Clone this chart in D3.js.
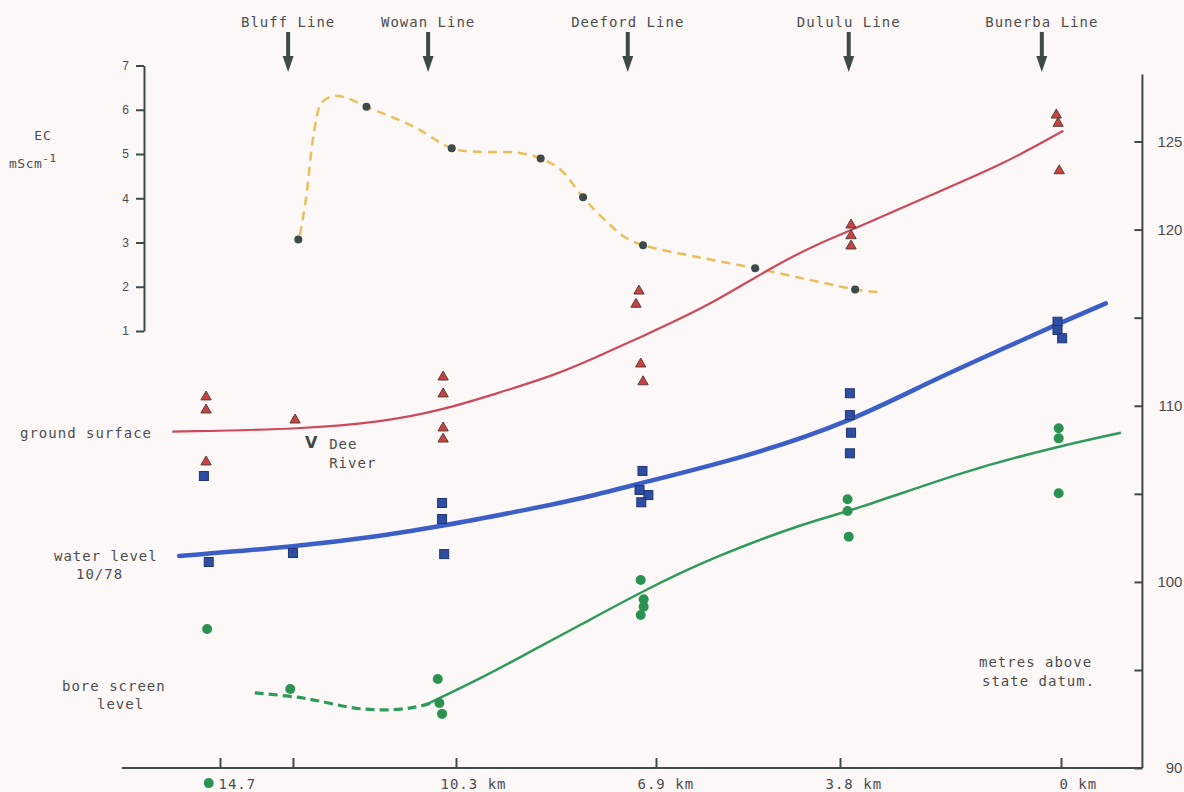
<!DOCTYPE html>
<html><head><meta charset="utf-8">
<script src="https://cdn.jsdelivr.net/npm/d3@7/dist/d3.min.js"></script>
<style>
html,body{margin:0;padding:0;background:#fcf8f7;}
svg{display:block;}
.plot{font-family:"DejaVu Sans Mono",monospace;font-size:14px;fill:#4d4d4d;letter-spacing:1px;}
</style></head>
<body><svg id="chart" width="1184" height="792"></svg>
<script>
// ---------- data ----------
// distance along section (km) -> bottom axis
const xTicks = [14.7, 13.34, 10.3, 6.9, 3.8, 0];
const xTickLabels = ["14.7", "", "10.3 km", "6.9 km", "3.8 km", "0 km"];
// EC axis (mS/cm)
const ecTicks = [1, 2, 3, 4, 5, 6, 7];
// elevation axis (m above state datum)
const elevTicks = [90, 95, 100, 105, 110, 115, 120, 125];
const elevTickLabels = ["90", "", "100", "", "110", "", "120", "125"];

// survey lines [name, km]
const surveyNames = ["Bluff Line", "Wowan Line", "Deeford Line", "Dululu Line", "Bunerba Line"];
const surveyKm = [13.43, 10.82, 7.38, 3.65, 0.33];

// EC samples [km, EC]
const ecPoints = [[13.24,3.07],[11.97,6.07],[10.38,5.13],[8.86,4.90],[8.14,4.02],[7.12,2.94],[5.23,2.42],[3.54,1.94]];
// EC trend (dashed) [km, EC]
const ecCurve = [[13.21,3.17],[13.10,3.96],[12.95,5.47],[12.81,6.15],[12.59,6.31],[12.37,6.28],[11.97,6.07],[11.09,5.62],[10.38,5.13],[9.92,5.05],[9.27,5.03],[8.86,4.90],[8.52,4.64],[8.14,4.02],[7.77,3.51],[7.44,3.13],[7.12,2.94],[6.23,2.68],[5.23,2.42],[4.29,2.15],[3.54,1.94],[3.16,1.88]];

// ground surface [km, m]
const groundLine = [[15.59,108.53],[13.10,108.68],[11.67,109.09],[10.60,109.72],[9.59,110.71],[8.62,111.75],[8.04,112.56],[7.15,113.92],[6.04,115.62],[4.94,117.89],[4.16,119.22],[3.63,119.92],[2.31,121.87],[0.99,123.71],[-0.04,125.61]];
const groundPoints = [[14.96,110.50],[14.96,109.76],[14.96,106.81],[13.30,109.19],[10.54,111.63],[10.54,110.67],[10.54,108.74],[10.54,108.11],[7.19,116.51],[7.24,115.76],[7.16,112.37],[7.12,111.36],[3.61,120.26],[3.61,119.65],[3.61,119.07],[0.08,126.50],[0.05,126.03],[0.03,123.34]];

// water level 10/78 [km, m]
const waterLine = [[15.46,101.47],[13.31,102.00],[11.67,102.62],[10.52,103.19],[9.27,103.99],[8.19,104.71],[7.17,105.60],[5.37,107.11],[3.68,109.00],[2.20,111.46],[1.05,113.16],[0.07,114.62],[-0.77,115.81]];
const waterPoints = [[15.00,106.01],[14.91,101.13],[13.34,101.64],[10.56,104.48],[10.56,103.57],[10.52,101.58],[7.13,106.30],[7.18,105.22],[7.03,104.93],[7.15,104.52],[3.63,110.71],[3.63,109.47],[3.61,108.47],[3.63,107.30],[0.06,114.77],[0.06,114.30],[-0.02,113.83]];

// bore screen level [km, m]
const screenDashed = [[14.05,93.83],[13.39,93.67],[12.90,93.47],[12.28,93.05],[11.66,92.92],[11.10,93.05],[10.78,93.30]];
const screenLine = [[10.81,93.30],[9.93,94.49],[9.14,95.85],[8.19,97.55],[7.15,99.44],[5.93,101.43],[4.25,103.51],[3.63,103.99],[1.62,106.35],[0.06,107.68],[-1.03,108.47]];
const screenPoints = [[14.94,97.33],[14.91,89.23],[13.39,94.03],[10.64,94.54],[10.61,93.32],[10.56,92.76],[7.16,100.11],[7.11,99.01],[7.11,98.59],[7.16,98.12],[3.67,104.69],[3.67,104.03],[3.65,102.57],[0.04,108.72],[0.04,108.15],[0.04,105.03]];

const deeRiver = [13.0, 108.0];
const xExtent = [16.53, -1.40];
const elevTop = 128.8;

// ---------- drawing ----------
const svg = d3.select("#chart");
svg.append("rect").attr("width",1184).attr("height",792).attr("fill","#fcf8f7");

const x = d3.scaleLinear().domain([14.7, 10.3, 6.9, 3.8, 0]).range([220, 456, 656, 840, 1061]);
const yEC = d3.scaleLinear().domain([1, 7]).range([331, 65.5]);
const yM = d3.scaleLinear().domain([90, 95, 125]).range([768, 670, 141.5]);

const axisCol = "#3e4a48";
const g = svg.append("g").attr("class","plot");

// bottom axis
const xAxisG = g.append("g").attr("transform",`translate(0,${yM(90)})`);
xAxisG.call(d3.axisBottom(x).tickValues(xTicks).tickSize(-10).tickPadding(11)
  .tickFormat((d,i)=>xTickLabels[i]));
xAxisG.select(".domain").remove();
xAxisG.append("line").attr("x1",x(xExtent[0])).attr("x2",x(xExtent[1])).attr("stroke",axisCol).attr("stroke-width",2);
xAxisG.selectAll(".tick line").attr("stroke",axisCol).attr("stroke-width",2);
const labelDx = {"14.7":-2,"10.3 km":-16,"6.9 km":-19,"3.8 km":-15,"0 km":-2};
xAxisG.selectAll(".tick text").attr("text-anchor","start")
  .attr("dx",(d,i)=>labelDx[xTickLabels[i]]||0)
  .style("font-family","'DejaVu Sans Mono',monospace").style("font-size","14px")
  .attr("fill","#4d4d4d").style("letter-spacing","1px");

// right elevation axis
const rx = x(xExtent[1]);
const yAxisG = g.append("g").attr("transform",`translate(${rx},0)`);
yAxisG.call(d3.axisRight(yM).tickValues(elevTicks).tickSize(-8).tickPadding(0)
  .tickFormat((d,i)=>elevTickLabels[i]));
yAxisG.select(".domain").remove();
yAxisG.append("line").attr("y1",yM(90)).attr("y2",yM(elevTop)).attr("stroke",axisCol).attr("stroke-width",2);
yAxisG.selectAll(".tick line").attr("stroke",axisCol).attr("stroke-width",2);
yAxisG.selectAll(".tick text").attr("x",40).attr("text-anchor","end")
  .style("font-family","'Liberation Sans',Arial,sans-serif").style("font-size","15px")
  .style("letter-spacing","0px").attr("fill","#4d4d4d");

// left EC axis
const ecAxisG = g.append("g").attr("transform","translate(144,0)");
ecAxisG.call(d3.axisLeft(yEC).tickValues(ecTicks).tickSize(8).tickSizeOuter(0).tickPadding(7).tickFormat(d3.format("d")));
ecAxisG.select(".domain").attr("stroke",axisCol).attr("stroke-width",2);
ecAxisG.selectAll(".tick line").attr("stroke",axisCol).attr("stroke-width",2);
ecAxisG.selectAll(".tick text").style("font-family","'Liberation Sans',Arial,sans-serif")
  .style("font-size","12px").style("letter-spacing","0px").attr("fill","#4d4d4d");

// EC label
g.append("text").attr("x",43).attr("y",140).attr("text-anchor","middle").style("font-size","13px").text("EC");
const ecl = g.append("text").attr("x",9).attr("y",168).style("font-size","13px").style("letter-spacing","0.5px");
ecl.append("tspan").text("mScm");
ecl.append("tspan").attr("dy",-6).style("font-size","11px").text("-1");

// survey line labels and arrows
surveyNames.forEach((n,i)=>{
  const cx = x(surveyKm[i]);
  g.append("text").attr("x",cx).attr("y",27).attr("text-anchor","middle").text(n);
  g.append("rect").attr("x",cx-2).attr("y",32).attr("width",4).attr("height",25).attr("fill",axisCol);
  g.append("path").attr("d",`M${cx-5.5},56 L${cx+5.5},56 L${cx},72 Z`).attr("fill",axisCol);
});

const line = d3.line().x(d=>x(d[0])).y(d=>yM(d[1])).curve(d3.curveBasis);
const lineEC = d3.line().x(d=>x(d[0])).y(d=>yEC(d[1])).curve(d3.curveCatmullRom.alpha(0.5));

// EC dashed curve
g.append("path").attr("d",lineEC(ecCurve)).attr("fill","none").attr("stroke","#e8bf5c")
  .attr("stroke-width",2.5).attr("stroke-dasharray","9,6");
g.selectAll(".ecpt").data(ecPoints).join("circle").attr("class","ecpt")
  .attr("cx",d=>x(d[0])).attr("cy",d=>yEC(d[1])).attr("r",4).attr("fill","#3e4a48");

// ground surface
g.append("path").attr("d",line(groundLine)).attr("fill","none").attr("stroke","#cc4a5c").attr("stroke-width",2.2);
// water level
g.append("path").attr("d",line(waterLine)).attr("fill","none").attr("stroke","#3b5fc6").attr("stroke-width",4.5).attr("stroke-linecap","round");
// bore screen
g.append("path").attr("d",line(screenLine)).attr("fill","none").attr("stroke","#2f9a5c").attr("stroke-width",2.5);
g.append("path").attr("d",line(screenDashed)).attr("fill","none").attr("stroke","#2f9a5c").attr("stroke-width",3.2).attr("stroke-dasharray","9,5");

// markers
const tri = d3.symbol().type(d3.symbolTriangle).size(46);
g.selectAll(".tri").data(groundPoints).join("path").attr("class","tri")
  .attr("transform",d=>`translate(${x(d[0])},${yM(d[1])})`).attr("d",tri)
  .attr("fill","#c9443e").attr("stroke","#5a3d3d").attr("stroke-width",1);
g.selectAll(".sq").data(waterPoints).join("rect").attr("class","sq")
  .attr("x",d=>x(d[0])-4.5).attr("y",d=>yM(d[1])-4.5).attr("width",9).attr("height",9)
  .attr("fill","#2d4ea3").attr("stroke","#223470").attr("stroke-width",1);
g.selectAll(".ci").data(screenPoints).join("circle").attr("class","ci")
  .attr("cx",d=>x(d[0])).attr("cy",d=>yM(d[1])).attr("r",5).attr("fill","#2b9352");

// Dee River
g.append("text").attr("x",x(deeRiver[0])).attr("y",yM(deeRiver[1])+7).attr("text-anchor","middle")
  .style("font-family","'DejaVu Sans',sans-serif").style("font-weight","bold").style("font-size","16px")
  .style("letter-spacing","0px").attr("fill","#3e4a48").text("V");
g.append("text").attr("x",x(deeRiver[0])+18).attr("y",yM(deeRiver[1])+8).text("Dee");
g.append("text").attr("x",x(deeRiver[0])+18).attr("y",yM(deeRiver[1])+27).text("River");

// side labels
g.append("text").attr("x",20).attr("y",438).text("ground surface");
g.append("text").attr("x",54).attr("y",561).text("water level");
g.append("text").attr("x",76).attr("y",579).text("10/78");
g.append("text").attr("x",62).attr("y",691).text("bore screen");
g.append("text").attr("x",97).attr("y",709).text("level");
g.append("text").attr("x",979).attr("y",667).text("metres above");
g.append("text").attr("x",982).attr("y",686).text("state datum.");
</script></body></html>
